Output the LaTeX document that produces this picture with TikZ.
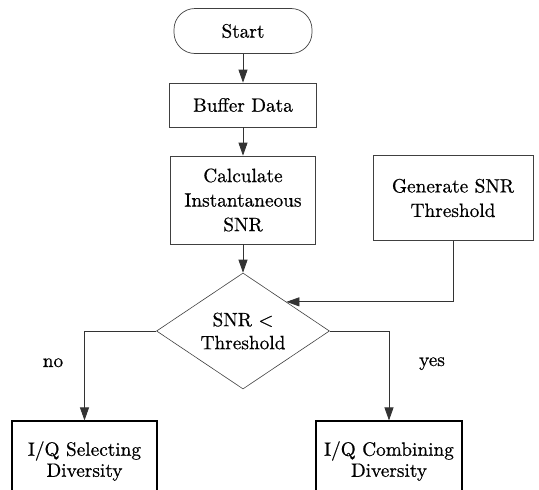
\documentclass[tikz,border=0pt]{standalone}
\usepackage{fontspec}
\newfontfamily\heavyfont{lmroman10-regular.otf}[FakeBold=0.6]
\usetikzlibrary{shapes.geometric,arrows.meta}
\tikzset{
  box/.style={draw=black!75, line width=0.7pt, rectangle, align=center, inner sep=0pt,
    font=\heavyfont\fontsize{19.3}{24.5}\selectfont},
  endbox/.style={box, draw=black, line width=1.1pt, font=\heavyfont\fontsize{19.3}{21}\selectfont},
  decision/.style={draw=black!75, line width=0.6pt, diamond, aspect=1.49, inner sep=0pt,
    align=center, font=\heavyfont\fontsize{19.3}{23}\selectfont},
  arr/.style={draw=black!80, line width=0.8pt, -{Triangle[length=13pt,width=9pt]}},
  lbl/.style={font=\heavyfont\fontsize{19.3}{25}\selectfont, anchor=base, inner sep=0pt}
}
\begin{document}
\begin{tikzpicture}[x=1pt,y=-1pt]
\useasboundingbox (0,0) rectangle (539,490);
\clip (0,0) rectangle (539,490);
\node[box, rounded corners=21pt, minimum width=138pt, minimum height=45pt] (start) at (243,31) {Start};
\node[box, minimum width=147pt, minimum height=44pt] (buffer) at (243,105) {Buffer Data};
\node[box, minimum width=145pt, minimum height=88pt] (calc) at (243,200) {Calculate\\Instantaneous\\SNR};
\node[box, minimum width=160pt, minimum height=85pt] (gen) at (453,198) {Generate SNR\\Threshold};
\node[decision, minimum width=173pt, minimum height=116pt] (dec) at (243,331) {SNR <\\Threshold};
\node[endbox, minimum width=145pt, minimum height=80pt] (sel) at (84.5,461) {I/Q Selecting\\Diversity};
\node[endbox, minimum width=146pt, minimum height=80pt] (comb) at (389,461) {I/Q Combining\\Diversity};
\node[lbl] (no) at (53,367) {no};
\node[lbl] (yes) at (432,366) {yes};
\draw[arr] (start) -- (buffer);
\draw[arr] (buffer) -- (calc);
\draw[arr] (calc) -- (dec);
\draw[arr] (gen.south) |- (dec.north east);
\draw[arr] (dec.west) -| (sel.north);
\draw[arr] (dec.east) -| (comb.north);
\end{tikzpicture}
\end{document}
